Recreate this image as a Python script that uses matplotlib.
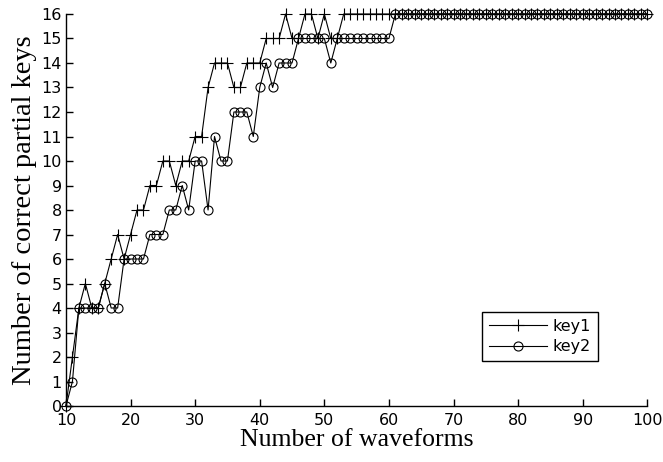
import matplotlib
matplotlib.use("Agg")
import matplotlib.pyplot as plt

# number of waveforms used (10 .. 100)
waveforms = list(range(10, 101))

key1 = [0, 2, 4, 5, 4, 4, 5, 6, 7, 6,
        7, 8, 8, 9, 9, 10, 10, 9, 10, 10,
        11, 11, 13, 14, 14, 14, 13, 13, 14, 14,
        14, 15, 15, 15, 16, 15, 15, 16, 16, 15,
        16, 15, 15, 16, 16, 16, 16, 16, 16, 16,
        16, 16, 16, 16, 16, 16, 16, 16, 16, 16,
        16, 16, 16, 16, 16, 16, 16, 16, 16, 16,
        16, 16, 16, 16, 16, 16, 16, 16, 16, 16,
        16, 16, 16, 16, 16, 16, 16, 16, 16, 16,
        16]

key2 = [0, 1, 4, 4, 4, 4, 5, 4, 4, 6,
        6, 6, 6, 7, 7, 7, 8, 8, 9, 8,
        10, 10, 8, 11, 10, 10, 12, 12, 12, 11,
        13, 14, 13, 14, 14, 14, 15, 15, 15, 15,
        15, 14, 15, 15, 15, 15, 15, 15, 15, 15,
        15, 16, 16, 16, 16, 16, 16, 16, 16, 16,
        16, 16, 16, 16, 16, 16, 16, 16, 16, 16,
        16, 16, 16, 16, 16, 16, 16, 16, 16, 16,
        16, 16, 16, 16, 16, 16, 16, 16, 16, 16,
        16]

xticks = list(range(10, 101, 10))
yticks = list(range(0, 17))

fig = plt.figure(figsize=(6.63, 4.62), dpi=100)
ax = fig.add_axes([0.0995, 0.1212, 0.8768, 0.8485])

ax.plot(waveforms, key1, color="black", lw=0.8, marker="+", ms=8.5,
        mew=0.8, label="key1", clip_on=False)
ax.plot(waveforms, key2, color="black", lw=0.8, marker="o", ms=6.5,
        mfc="none", mew=0.8, label="key2", clip_on=False)

ax.set_xlim(10, 100)
ax.set_ylim(0, 16)
ax.set_xticks(xticks)
ax.set_yticks(yticks)

for side in ["top", "right"]:
    ax.spines[side].set_visible(False)
for side in ["left", "bottom"]:
    ax.spines[side].set_linewidth(1.0)

ax.tick_params(direction="in", length=5, width=1, labelsize=11.5)
ax.tick_params(axis="x", pad=5)
ax.tick_params(axis="y", pad=3)
for lab in ax.get_xticklabels() + ax.get_yticklabels():
    lab.set_fontfamily("DejaVu Sans")

ax.set_xlabel("Number of waveforms", family="Liberation Serif", fontsize=18.5,
              labelpad=0.5)
ax.set_ylabel("Number of correct partial keys", family="Liberation Serif",
              fontsize=20.5, labelpad=3)

leg = ax.legend(loc="upper right", bbox_to_anchor=(0.916, 0.241), numpoints=1,
                handlelength=3.6, fontsize=11.5, fancybox=False, framealpha=1,
                borderpad=0.45, labelspacing=0.35, handletextpad=0.4,
                borderaxespad=0)
leg.get_frame().set_edgecolor("black")
leg.get_frame().set_linewidth(1.0)

fig.savefig("out.png", dpi=100)
